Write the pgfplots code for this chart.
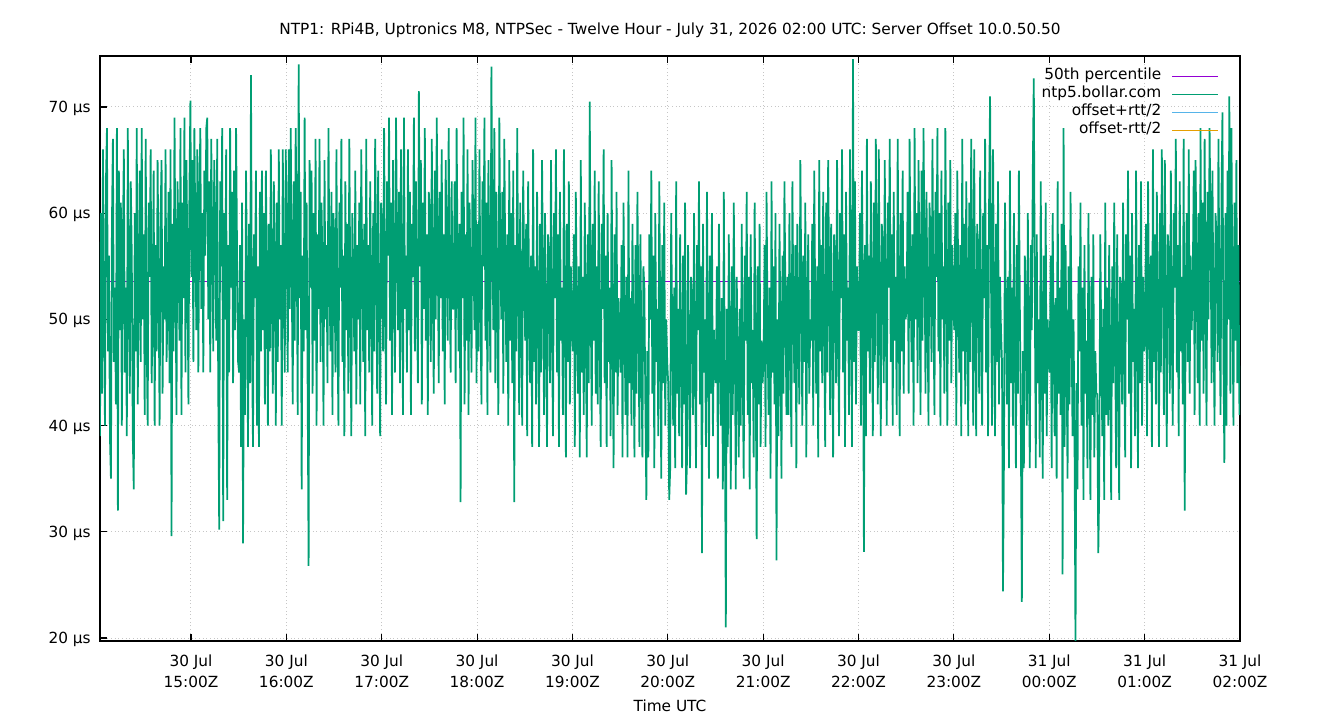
\documentclass[border=0pt]{standalone}
\usepackage{fontspec}
\setmainfont{DejaVu Sans}
\usepackage{pgfplots}
\pgfplotsset{compat=1.18}
\definecolor{gpgreen}{HTML}{009E73}
\definecolor{gppurple}{HTML}{9400D3}
\definecolor{gpblue}{HTML}{56B4E9}
\definecolor{gporange}{HTML}{E69F00}

\begin{document}
\begin{tikzpicture}
\useasboundingbox (-75pt,-59.25pt) rectangle (930pt,480.75pt);
\begin{axis}[
  at={(0,0)}, anchor=south west,
  width=855pt, height=438.75pt, scale only axis,
  xmin=14.046, xmax=26, ymin=19.72, ymax=74.8,
  font=\fontsize{11.5}{15.75}\selectfont,
  axis line style={black, line width=0.9pt},
  tick align=inside, xtick pos=both, ytick pos=left,
  major tick length=5pt,
  tick style={black, line width=0.8pt},
  xtick={15,16,...,26},
  xticklabels={30 Jul\\15:00Z, 30 Jul\\16:00Z, 30 Jul\\17:00Z, 30 Jul\\18:00Z,
    30 Jul\\19:00Z, 30 Jul\\20:00Z, 30 Jul\\21:00Z, 30 Jul\\22:00Z,
    30 Jul\\23:00Z, 31 Jul\\00:00Z, 31 Jul\\01:00Z, 31 Jul\\02:00Z},
  xticklabel style={align=center, inner sep=0pt, anchor=north, yshift=-10pt},
  ytick={20,30,...,70},
  yticklabels={20 µs, 30 µs, 40 µs, 50 µs, 60 µs, 70 µs},
  yticklabel style={anchor=base east, inner sep=0pt, xshift=-6.75pt, yshift=-4.2pt},
  grid=major,
  major grid style={gray!45, line width=0.75pt, dotted},
  title={NTP1: RPi4B, Uptronics M8, NTPSec - Twelve Hour - July 31, 2026 02:00 UTC: Server Offset 10.0.50.50},
  title style={at={(axis description cs:0.5,1)}, anchor=center, yshift=13.5pt, inner sep=0pt},
  xlabel={Time UTC},
  xlabel style={at={(axis description cs:0.5,0)}, anchor=center, yshift=-48.75pt, inner sep=0pt},
  legend plot pos=right,
  legend cell align=right,
  legend image code/.code={\draw[#1] (0pt,0pt) -- (34.5pt,0pt);},
  legend style={at={(axis description cs:1,1)}, anchor=north east,
    xshift=-15.75pt, yshift=-8.7pt, draw=none, fill=none, inner sep=0pt,
    row sep=0pt, column sep=8pt,
    nodes={inner sep=0pt, text height=9pt, text depth=4.5pt}},
]
\addplot[gppurple, line width=0.6pt] coordinates {(14.046,53.6) (26,53.6)};
\addlegendentry{50th percentile}
\addplot[gpgreen, line width=1.3pt, line join=bevel, legend image post style={line width=0.6pt}] table[row sep=crcr, x expr={14.046+\coordindex/96}, y index=0] {
y\\
39\\60\\43\\66\\50\\40\\63\\68\\47\\56\\39\\35\\59\\67\\46\\53\\42\\68\\32\\64\\
49\\61\\40\\57\\66\\45\\53\\39\\68\\52\\43\\63\\56\\39\\34\\60\\47\\68\\42\\54\\64\\46\\68\\50\\
58\\41\\67\\48\\40\\61\\54\\66\\44\\51\\64\\40\\57\\47\\65\\53\\40\\60\\65\\43\\55\\50\\66\\46\\
51\\62\\44\\66\\29.6\\59\\47\\69\\54\\41\\63\\58\\48\\68\\41\\61\\52\\69\\45\\65\\56\\42\\62\\70.6\\
54\\65\\46\\68\\58\\49\\66\\45\\61\\68\\51\\60\\45\\64\\56\\68\\69\\50\\63\\45\\67\\57\\47\\65\\
59\\48\\67\\44\\30.2\\63\\55\\68\\31\\60\\50\\66\\33\\57\\45\\68\\53\\62\\44\\64\\49\\68\\56\\46\\
45\\57\\38\\61\\28.9\\50\\41\\64\\54\\38\\59\\44\\73\\48\\38\\58\\52\\64\\40\\55\\38\\62\\47\\64\\
49\\60\\42\\64\\54\\40\\59\\47\\66\\52\\43\\63\\56\\40\\61\\46\\66\\50\\57\\40\\66\\53\\45\\66\\
58\\45\\66\\51\\68\\55\\42\\63\\48\\68\\59\\41\\74\\52\\62\\34\\56\\47\\69\\49\\61\\44\\26.8\\65\\
53\\64\\43\\60\\48\\67\\40\\58\\51\\67\\46\\61\\55\\40\\65\\50\\57\\44\\68\\54\\47\\62\\41\\60\\
57\\45\\66\\50\\40\\61\\53\\67\\46\\56\\39\\63\\49\\59\\43\\67\\52\\39\\60\\54\\47\\64\\42\\57\\
50\\61\\42\\66\\54\\46\\59\\39\\67\\49\\57\\45\\63\\53\\40\\60\\47\\67\\56\\43\\64\\52\\39\\61\\
59\\47\\68\\52\\42\\63\\56\\69\\48\\61\\41\\65\\54\\45\\69\\58\\49\\62\\44\\66\\55\\41\\69\\51\\
56\\45\\66\\49\\62\\41\\59\\54\\69\\47\\63\\52\\44\\71.5\\55\\65\\42\\61\\51\\68\\48\\58\\41\\62\\
60\\46\\67\\53\\43\\64\\50\\69\\57\\44\\62\\52\\66\\47\\58\\42\\65\\55\\48\\68\\54\\45\\63\\51\\
51\\63\\44\\68\\55\\47\\59\\32.8\\62\\52\\69\\42\\58\\48\\66\\41\\61\\54\\45\\65\\56\\49\\69\\44\\
59\\47\\66\\51\\42\\63\\55\\69\\48\\61\\41\\65\\54\\45\\73.8\\58\\49\\68\\44\\62\\52\\41\\69\\56\\
50\\62\\43\\67\\55\\46\\58\\40\\65\\48\\60\\44\\64\\32.8\\57\\47\\68\\53\\41\\61\\51\\40\\64\\55\\
48\\59\\39\\63\\52\\44\\56\\38\\66\\46\\55\\42\\62\\51\\38\\59\\45\\65\\53\\41\\60\\49\\38\\58\\
56\\44\\65\\49\\39\\60\\52\\66\\45\\58\\38\\62\\48\\53\\41\\66\\51\\37\\59\\46\\63\\42\\55\\49\\
47\\58\\38\\62\\51\\43\\55\\37\\65\\45\\54\\41\\61\\50\\37\\58\\44\\70.5\\52\\40\\59\\48\\64\\43\\
55\\42\\63\\48\\38\\59\\51\\66\\44\\56\\38\\60\\46\\53\\39\\65\\49\\36\\58\\45\\62\\41\\52\\48\\
45\\57\\37\\61\\50\\41\\54\\37\\64\\44\\52\\40\\59\\48\\37\\57\\43\\62\\51\\38\\58\\47\\37\\55\\
53\\42\\33\\47\\37\\58\\50\\64\\43\\56\\36\\60\\46\\51\\39\\63\\49\\35\\57\\44\\61\\40\\50\\46\\
44\\33\\36\\60\\49\\40\\53\\36\\63\\43\\51\\39\\58\\47\\36\\56\\42\\61\\33.5\\37\\57\\46\\36\\54\\
52\\41\\60\\46\\36\\57\\49\\63\\42\\55\\28\\59\\45\\50\\38\\62\\48\\35\\56\\43\\60\\39\\49\\45\\
44\\55\\35\\59\\48\\40\\52\\34\\62\\42\\21\\51\\38\\58\\47\\34\\55\\41\\61\\49\\34\\54\\45\\37\\
51\\40\\59\\45\\35\\56\\48\\62\\41\\54\\34\\58\\44\\49\\37\\61\\47\\29.3\\55\\42\\59\\38\\48\\44\\
46\\57\\38\\62\\49\\41\\53\\35\\63\\45\\55\\42\\60\\27.3\\50\\39\\59\\48\\35\\56\\43\\63\\52\\41\\
54\\41\\60\\48\\38\\63\\51\\44\\57\\36\\59\\49\\42\\65\\53\\40\\56\\46\\61\\37\\52\\58\\43\\50\\
48\\59\\40\\64\\51\\43\\55\\37\\65\\47\\57\\44\\62\\50\\38\\61\\45\\65\\54\\41\\59\\48\\37\\58\\
56\\44\\65\\49\\39\\60\\52\\66\\45\\58\\38\\62\\48\\53\\41\\66\\51\\38\\74.5\\46\\63\\42\\55\\49\\
49\\60\\40\\64\\53\\28.1\\57\\39\\67\\47\\56\\43\\63\\52\\39\\61\\46\\67\\54\\42\\66\\50\\39\\59\\
57\\44\\65\\50\\40\\61\\53\\67\\46\\58\\40\\62\\48\\54\\41\\67\\51\\39\\60\\47\\64\\43\\55\\50\\
51\\62\\43\\67\\54\\46\\58\\40\\68\\50\\60\\44\\65\\53\\41\\64\\48\\68\\57\\43\\62\\51\\40\\61\\
58\\46\\67\\51\\41\\62\\54\\68\\47\\60\\40\\64\\50\\55\\43\\68\\53\\40\\61\\48\\65\\44\\57\\51\\
49\\60\\40\\64\\53\\45\\57\\39\\67\\47\\59\\42\\63\\52\\39\\61\\46\\67\\56\\40\\66\\50\\39\\59\\
56\\43\\64\\49\\40\\60\\52\\67\\45\\57\\39\\61\\71\\53\\40\\66\\50\\39\\59\\46\\63\\42\\54\\49\\
46\\24.4\\37\\61\\50\\42\\54\\36\\64\\44\\53\\40\\60\\49\\36\\57\\43\\64\\51\\39\\23.4\\47\\36\\56\\
51\\40\\60\\46\\36\\57\\49\\64\\72.7\\53\\36\\58\\44\\50\\37\\63\\47\\35\\56\\43\\61\\39\\50\\46\\
45\\56\\36\\60\\48\\39\\52\\35\\63\\43\\53\\41\\59\\26\\68\\38\\57\\46\\35\\55\\42\\62\\50\\39\\
50\\39\\19\\44\\34\\55\\47\\61\\40\\53\\33\\57\\43\\48\\36\\60\\46\\33\\54\\41\\58\\37\\47\\43\\
43\\28\\34\\58\\47\\39\\51\\33\\61\\41\\53\\40\\57\\46\\33\\55\\44\\61\\48\\36\\58\\43\\33\\54\\
53\\42\\61\\47\\37\\58\\50\\64\\43\\56\\36\\60\\46\\51\\39\\64\\49\\36\\57\\44\\63\\40\\54\\47\\
48\\59\\39\\63\\52\\44\\56\\38\\66\\46\\58\\42\\62\\51\\38\\60\\45\\66\\55\\41\\65\\49\\38\\58\\
56\\43\\64\\49\\40\\60\\53\\67\\45\\57\\39\\63\\47\\54\\42\\67\\32\\52\\60\\46\\66\\43\\56\\49\\
53\\64\\41\\65\\55\\44\\60\\40\\68\\48\\61\\43\\67\\51\\40\\62\\50\\68\\58\\44\\64\\50\\40\\60\\
58\\46\\67\\51\\41\\62\\69.5\\47\\36.5\\60\\40\\64\\50\\71\\43\\68\\53\\40\\61\\48\\65\\44\\57\\41\\
};
\addlegendentry{ntp5.bollar.com}
\addlegendimage{gpblue, line width=0.6pt}
\addlegendentry{offset+rtt/2}
\addlegendimage{gporange, line width=0.6pt}
\addlegendentry{offset-rtt/2}
\end{axis}
\end{tikzpicture}
\end{document}
